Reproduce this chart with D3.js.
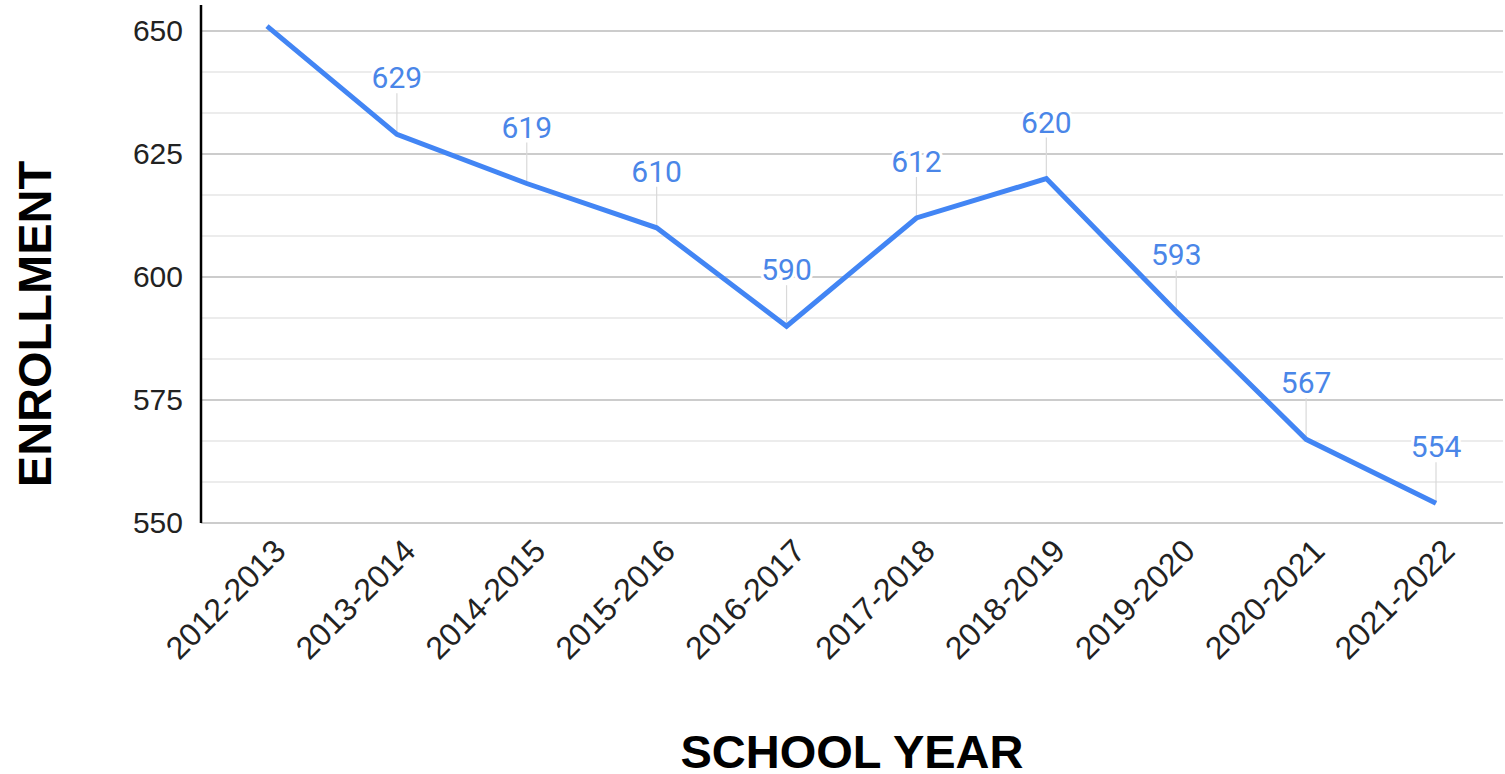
<!DOCTYPE html>
<html>
<head>
<meta charset="utf-8">
<script src="https://cdn.jsdelivr.net/npm/d3@7"></script>
<style>
  html, body { margin: 0; padding: 0; background: #fff; }
  svg { display: block; }
</style>
</head>
<body>
<svg id="chart" width="1505" height="774"></svg>
<script>
// Enrollment per school year
const years = ["2012-2013", "2013-2014", "2014-2015", "2015-2016", "2016-2017",
               "2017-2018", "2018-2019", "2019-2020", "2020-2021", "2021-2022"];
const enrollment = [651, 629, 619, 610, 590, 612, 620, 593, 567, 554];
const labelled = [false, true, true, true, true, true, true, true, true, true];
const yTicks = [550, 575, 600, 625, 650];
const yMinor = [558.33, 566.67, 583.33, 591.67, 608.33, 616.67, 633.33, 641.67];

const svg = d3.select("#chart");
const plot = { left: 201, right: 1503, top: 5, bottom: 523 };

const x = d3.scalePoint().domain(years).range([267, 1436]);
const y = d3.scaleLinear().domain([550, 650]).range([523, 31]);

// minor gridlines
svg.append("g").selectAll("line").data(yMinor).join("line")
  .attr("x1", plot.left).attr("x2", plot.right)
  .attr("y1", d => y(d)).attr("y2", d => y(d))
  .attr("stroke", "#e6e6e6").attr("stroke-width", 1.5);

// major gridlines
svg.append("g").selectAll("line").data(yTicks).join("line")
  .attr("x1", plot.left).attr("x2", plot.right)
  .attr("y1", d => y(d)).attr("y2", d => y(d))
  .attr("stroke", "#cccccc").attr("stroke-width", 1.8);

// y axis
const yAxis = d3.axisLeft(y).tickValues(yTicks).tickSize(0).tickPadding(18);
const gy = svg.append("g").attr("transform", `translate(${plot.left},0)`).call(yAxis);
gy.select(".domain").remove();
gy.selectAll("text")
  .attr("font-family", "Liberation Sans, Arial, sans-serif")
  .attr("font-size", 30).attr("fill", "#222");
svg.append("line")
  .attr("x1", plot.left).attr("x2", plot.left)
  .attr("y1", plot.top).attr("y2", plot.bottom)
  .attr("stroke", "#000").attr("stroke-width", 2.5);

// x axis with slanted labels
const xAxis = d3.axisBottom(x).tickSize(0).tickPadding(0);
const gx = svg.append("g").attr("transform", `translate(0,${plot.bottom})`).call(xAxis);
gx.select(".domain").remove();
gx.selectAll("text")
  .attr("font-family", "Liberation Sans, Arial, sans-serif")
  .attr("font-size", 32).attr("fill", "#222")
  .attr("text-anchor", "end")
  .attr("dy", 0)
  .attr("transform", "translate(20,30) rotate(-45)");

// leader lines from points to labels
const pts = years.map((yr, i) => ({ yr, v: enrollment[i], show: labelled[i] }));
svg.append("g").selectAll("line").data(pts.filter(d => d.show)).join("line")
  .attr("x1", d => x(d.yr)).attr("x2", d => x(d.yr))
  .attr("y1", d => y(d.v)).attr("y2", d => y(d.v) - 41)
  .attr("stroke", "#d9d9d9").attr("stroke-width", 1.2);

// line
const line = d3.line().x(d => x(d.yr)).y(d => y(d.v));
svg.append("path").datum(pts)
  .attr("d", line)
  .attr("fill", "none").attr("stroke", "#4285f4")
  .attr("stroke-width", 5).attr("stroke-linejoin", "miter");

// value labels
svg.append("g").selectAll("text").data(pts.filter(d => d.show)).join("text")
  .attr("x", d => x(d.yr)).attr("y", d => y(d.v) - 46)
  .attr("text-anchor", "middle")
  .attr("font-family", "Roboto, sans-serif").attr("font-size", 30)
  .attr("fill", "#4a86e8")
  .attr("stroke", "#fff").attr("stroke-width", 6).attr("paint-order", "stroke")
  .text(d => d.v);

// axis titles
svg.append("text")
  .attr("transform", "translate(51,324) rotate(-90)")
  .attr("text-anchor", "middle")
  .attr("font-family", "Liberation Sans, Arial, sans-serif")
  .attr("font-weight", "bold").attr("font-size", 47).attr("fill", "#000")
  .text("ENROLLMENT");

svg.append("text")
  .attr("x", 852).attr("y", 768)
  .attr("text-anchor", "middle")
  .attr("font-family", "Liberation Sans, Arial, sans-serif")
  .attr("font-weight", "bold").attr("font-size", 47).attr("fill", "#000")
  .text("SCHOOL YEAR");
</script>
</body>
</html>
